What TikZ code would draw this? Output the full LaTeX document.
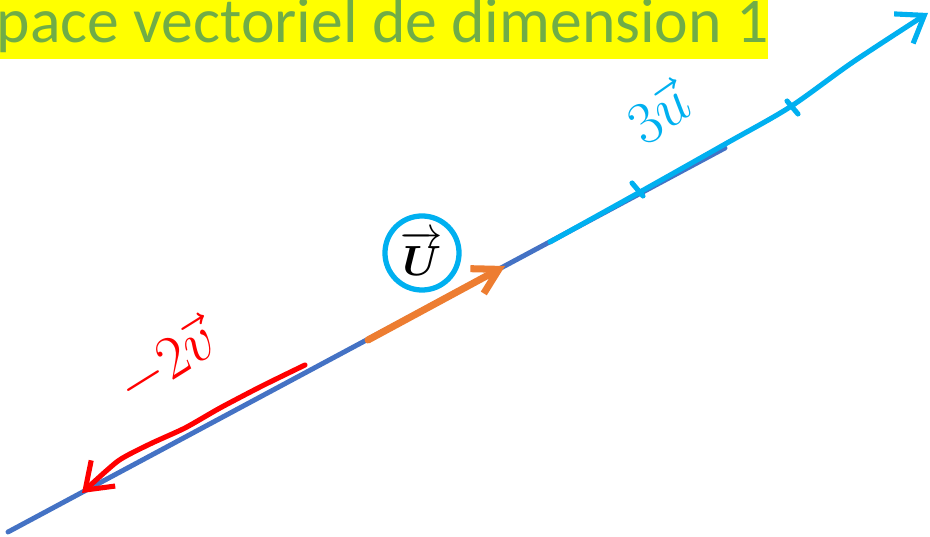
\documentclass[tikz,border=0pt]{standalone}
\usepackage{amsmath,amssymb}
\usepackage{fontspec}
\usetikzlibrary{arrows.meta}
\newfontfamily\titlefont{Carlito}
\definecolor{lineblue}{HTML}{4472C4}
\definecolor{vecorange}{HTML}{ED7D31}
\definecolor{penblue}{HTML}{00B0F0}
\definecolor{penred}{HTML}{FF0000}
\definecolor{titlegreen}{HTML}{70AD47}
\definecolor{marker}{HTML}{FFFF00}

\begin{document}
\begin{tikzpicture}[x=0.01cm, y=-0.01cm, line cap=round, line join=round,
	every node/.style={inner sep=0pt},
	pen/.style={line width=1.45pt},
	pentip/.style={-{Straight Barb[length=7pt, width=10pt, line width=1.45pt]}}]
	\useasboundingbox (0,0) rectangle (930,537);
	\fill[marker] (0,0) rectangle (768,59);
	\node[anchor=base west, text=titlegreen, font=\titlefont\fontsize{18.1}{21}\selectfont] (title) at (-4,43) {pace vectoriel de dimension 1};
	\coordinate (A) at (8,532);
	\coordinate (B) at (725,148);
	\draw[lineblue, line width=1.4pt] (A) -- (B);
	\coordinate (O) at (368,340);
	\coordinate (U) at (505,266);
	\draw[vecorange, line width=2pt, -{Straight Barb[length=7pt, width=8pt, line width=2pt]}] (O) -- (U);
	\node[circle, draw=penblue, line width=1.5pt, minimum size=0.74cm, font=\fontsize{12}{14}\selectfont] (Ucirc) at (422,253) {$\overrightarrow{\boldsymbol{U}}$};
	\coordinate (c0) at (550,242);
	\coordinate (c1) at (928,13);
	\draw[penblue, pen, pentip] plot[smooth, tension=0.5] coordinates {(c0) (640,192) (727,143) (790,107) (853,62) (c1)};
	\foreach \a/\b in {632/183, 787/101} {\draw[penblue, pen] (\a,\b) -- ++(11,13);}
	\node[text=penblue, rotate=35, font=\fontsize{16}{18}\selectfont] (lab3u) at (658,112) {$3\vec{u}$};
	\coordinate (r0) at (305,365);
	\coordinate (r1) at (82,493);
	\draw[penred, pen, pentip] plot[smooth, tension=0.4] coordinates {(r0) (262,386) (220,408) (185,428) (150,444) (118,461) (r1)};
	\node[text=penred, rotate=32, font=\fontsize{17}{19}\selectfont] (lab2v) at (166,362) {$-2\vec{v}$};
\end{tikzpicture}
\end{document}
